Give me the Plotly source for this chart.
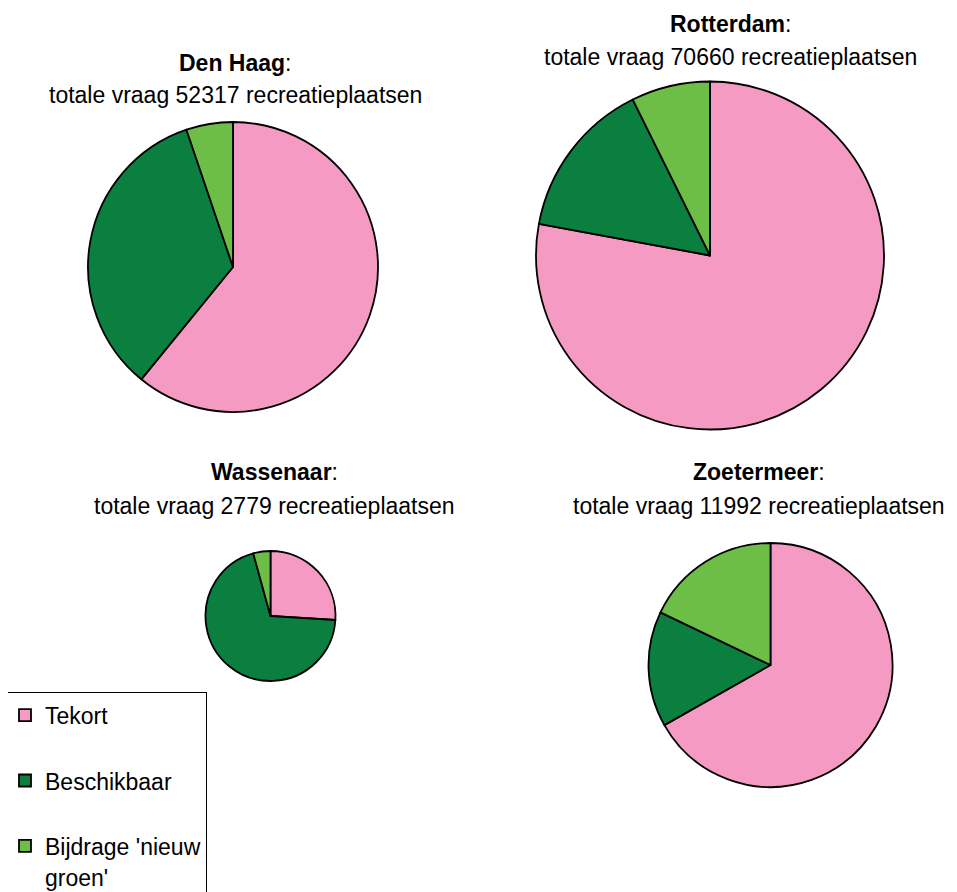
import plotly.graph_objects as go

# ---- data ----
categories = ["Tekort", "Beschikbaar", "Bijdrage 'nieuw groen'"]
legend_text = ["Tekort<br> ", "Beschikbaar<br> ", "Bijdrage 'nieuw<br>groen'"]
colors = ["#F49AC3", "#0A7F3F", "#6CBE47"]

cities = ["Den Haag", "Rotterdam", "Wassenaar", "Zoetermeer"]
totals = [52317, 70660, 2779, 11992]
tekort = [31860, 55050, 722, 8010]
beschikbaar = [17735, 10440, 1938, 1836]
bijdrage = [2722, 5170, 119, 2146]

# ---- layout geometry (page pixels; the page body adds an 8px offset) ----
OFF = 8
W, H = 957 - OFF, 892 - OFF
pie_center = [(233, 267), (710, 255.5), (270.5, 616), (770.5, 665)]
pie_radius = [145, 174, 65, 122]
title_x = [235, 730, 274, 759]
title_y = [(63, 95), (24, 57), (472, 506), (472, 506)]

FONT = "Liberation Sans, Arial, sans-serif"

def px_x(x):
    return (x - OFF) / W

def px_y(y):
    return 1 - (y - OFF) / H

def span(t, size=23):
    return "<br>".join(f"<span style='font-size:{size}px'>{p}</span>" if p.strip() else p
                       for p in t.split("<br>"))

labels = [span(t) for t in legend_text]

fig = go.Figure()
for i, city in enumerate(cities):
    cx, cy = pie_center[i]
    r = pie_radius[i]
    fig.add_trace(go.Pie(
        labels=labels,
        values=[tekort[i], beschikbaar[i], bijdrage[i]],
        sort=False,
        direction="clockwise",
        rotation=0,
        textinfo="none",
        hoverinfo="label+value+percent",
        marker=dict(colors=colors, line=dict(color="#000000", width=1.8)),
        domain=dict(x=[px_x(cx - r), px_x(cx + r)], y=[px_y(cy + r), px_y(cy - r)]),
        showlegend=(i == 0),
        name=city,
    ))

annotations = []
for i, city in enumerate(cities):
    annotations.append(dict(
        text=f"<b>{city}</b>:", x=px_x(title_x[i]), y=px_y(title_y[i][0]),
        xref="paper", yref="paper", xanchor="center", yanchor="middle",
        showarrow=False, font=dict(family=FONT, size=23, color="#000000")))
    annotations.append(dict(
        text=f"totale vraag {totals[i]} recreatieplaatsen", x=px_x(title_x[i]), y=px_y(title_y[i][1]),
        xref="paper", yref="paper", xanchor="center", yanchor="middle",
        showarrow=False, font=dict(family=FONT, size=23, color="#000000")))

fig.update_layout(
    width=W, height=H,
    margin=dict(l=0, r=0, t=0, b=0, autoexpand=False),
    paper_bgcolor="white", plot_bgcolor="white",
    font=dict(family=FONT, color="#000000"),
    annotations=annotations,
    showlegend=True,
    legend=dict(
        x=px_x(4), y=px_y(692), xanchor="left", yanchor="top",
        bordercolor="#000000", borderwidth=1, bgcolor="white",
        font=dict(family=FONT, size=24, color="#000000"),
        valign="top", traceorder="normal",
    ),
)

fig.write_html("out.html")
